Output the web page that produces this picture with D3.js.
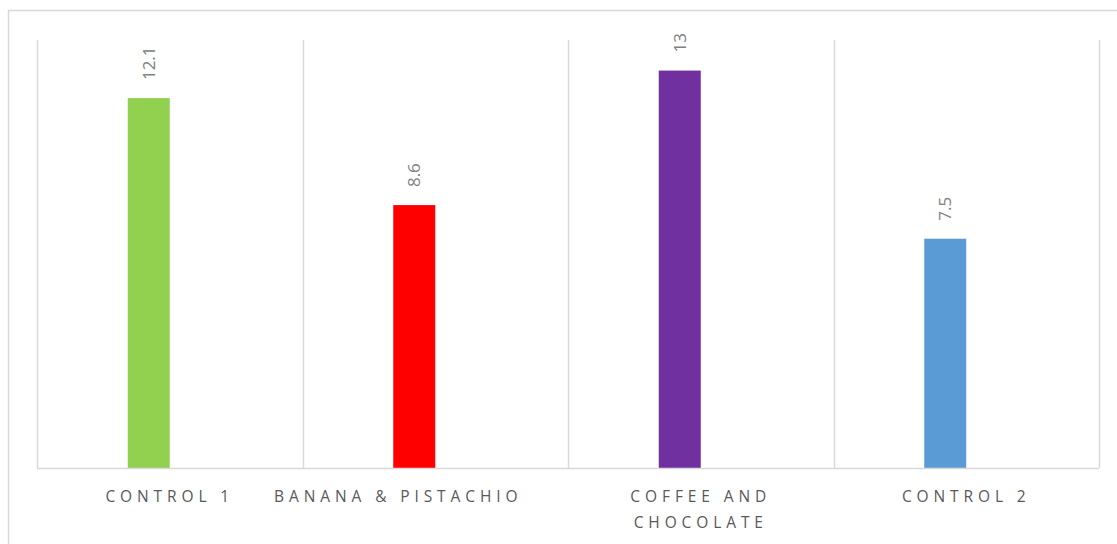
<!DOCTYPE html>
<html><head><meta charset="utf-8">
<script src="https://cdn.jsdelivr.net/npm/d3@7"></script>
<style>html,body{margin:0;padding:0;background:#fff;overflow:hidden}</style>
</head><body>
<svg id="c" width="1117" height="544"></svg>
<script>
const categories = ["CONTROL 1", "BANANA & PISTACHIO", "COFFEE AND CHOCOLATE", "CONTROL 2"];
const labelLines = [["CONTROL 1"], ["BANANA & PISTACHIO"], ["COFFEE AND", "CHOCOLATE"], ["CONTROL 2"]];
const values = [12.1, 8.6, 13, 7.5];
const colors = ["#92D050", "#FF0000", "#7030A0", "#5B9BD5"];
const yMax = 14;

const svg = d3.select("#c");
const m = {left: 37, right: 1099, top: 40, bottom: 468};

svg.append("rect").attr("x", 8.5).attr("y", 10.5).attr("width", 1200).attr("height", 600)
  .attr("fill", "none").attr("stroke", "#d9d9d9").attr("stroke-width", 1.5);

const x = d3.scaleBand().domain(categories).range([m.left, m.right]);
const y = d3.scaleLinear().domain([0, yMax]).range([m.bottom, m.top]);
const barW = 42;

// vertical category separators
const seps = categories.map(c => x(c)).concat([x(categories[categories.length-1]) + x.bandwidth()]);
svg.selectAll("line.sep").data(seps).enter().append("line")
  .attr("x1", d => Math.round(d) + 0.5).attr("x2", d => Math.round(d) + 0.5)
  .attr("y1", y(yMax)).attr("y2", y(0))
  .attr("stroke", "#d9d9d9").attr("stroke-width", 1.5);

// bars (left of center, as in a two-series cluster)
svg.selectAll("rect.bar").data(values).enter().append("rect")
  .attr("x", (d, i) => x(categories[i]) + x.bandwidth() / 2 - barW)
  .attr("width", barW)
  .attr("y", d => y(d)).attr("height", d => y(0) - y(d))
  .attr("fill", (d, i) => colors[i]);

// baseline
svg.append("line").attr("x1", m.left).attr("x2", m.right)
  .attr("y1", y(0) + 0.5).attr("y2", y(0) + 0.5)
  .attr("stroke", "#d9d9d9").attr("stroke-width", 1.5);

// value labels rotated
svg.selectAll("text.val").data(values).enter().append("text")
  .attr("transform", (d, i) => {
    const cx = x(categories[i]) + x.bandwidth() / 2 - barW / 2;
    return `translate(${cx},${y(d) - 18}) rotate(-90)`;
  })
  .attr("dy", "0.36em")
  .attr("text-anchor", "start")
  .attr("font-family", "'Open Sans', sans-serif")
  .attr("font-size", 17)
  .attr("fill", "#808080")
  .text(d => d);

// category labels (Banana label sits left of its band centre in the original)
const labelShift = [0, -37, 0, 0];
const g = svg.selectAll("g.cat").data(labelLines).enter().append("g")
  .attr("transform", (d, i) => `translate(${x(categories[i]) + x.bandwidth() / 2 + labelShift[i]},0)`);
g.selectAll("text").data(d => d).enter().append("text")
  .attr("x", 0).attr("y", (d, j) => 502 + j * 26)
  .attr("text-anchor", "middle")
  .attr("font-family", "'Open Sans', sans-serif")
  .attr("font-size", 15.5)
  .attr("letter-spacing", "4.9px")
  .attr("fill", "#595959")
  .text(d => d);
</script>
</body></html>
